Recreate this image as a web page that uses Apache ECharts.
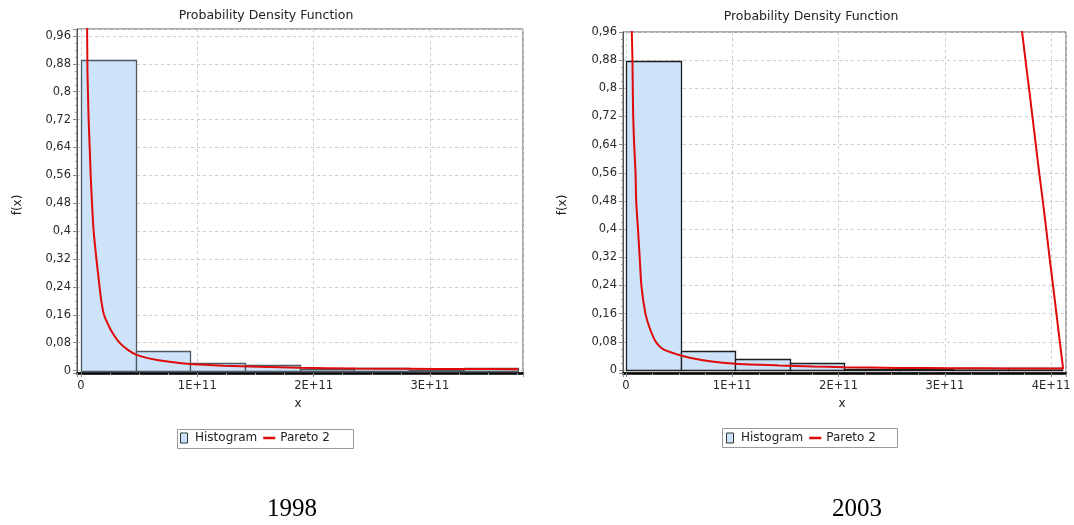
<!DOCTYPE html>
<html>
<head>
<meta charset="utf-8">
<script src="https://cdn.jsdelivr.net/npm/echarts@6/dist/echarts.min.js"></script>
<style>
  html, body { margin: 0; padding: 0; background: #fff; }
  #c { width: 1074px; height: 525px; }
</style>
</head>
<body>
<div id="c"></div>
<script>
// x values are given in units of 1E+11
const X_UNIT = 1e11;

// 1998 histogram: bin edges and bar heights
const binEdges1998 = [0, 0.47, 0.94, 1.41, 1.88, 2.35, 2.82, 3.29, 3.76];
const binHeights1998 = [0.89, 0.057, 0.022, 0.017, 0.005, 0.006, 0.002, 0.007];

// 1998 fitted Pareto 2 density
const paretoX1998 = [0.052, 0.056, 0.060, 0.066, 0.075, 0.085, 0.095, 0.109, 0.133, 0.160, 0.175, 0.198,
  0.251, 0.287, 0.331, 0.40, 0.479, 0.583, 0.76, 0.967, 1.23, 1.53, 1.88, 2.36, 2.83, 3.29, 3.76];
const paretoY1998 = [1.02, 0.86, 0.80, 0.72, 0.64, 0.55, 0.48, 0.40, 0.32, 0.24, 0.20, 0.16,
  0.12, 0.10, 0.08, 0.06, 0.045, 0.035, 0.025, 0.018, 0.014, 0.011, 0.008, 0.006, 0.005, 0.0045, 0.004];

// 2003 histogram
const binEdges2003 = [0, 0.513, 1.026, 1.539, 2.052, 2.565, 3.078, 3.591, 4.104];
const binHeights2003 = [0.877, 0.054, 0.030, 0.0186, 0.002, 0.002, 0.006, 0.006];

// 2003 fitted Pareto 2 density (the trace turns back up at the right end)
const paretoX2003 = [0.053, 0.055, 0.061, 0.064, 0.068, 0.077, 0.090, 0.096, 0.113, 0.129, 0.145, 0.183,
  0.222, 0.28, 0.344, 0.473, 0.60, 0.79, 1.03, 1.44, 1.76, 2.05, 2.56, 3.08, 3.59, 4.10,
  4.113, 4.082, 4.050, 4.018, 3.985, 3.954, 3.922, 3.888, 3.856, 3.824, 3.792, 3.759, 3.727, 3.711];
const paretoY2003 = [1.0, 0.96, 0.88, 0.80, 0.72, 0.64, 0.56, 0.48, 0.40, 0.32, 0.24, 0.16,
  0.12, 0.08, 0.06, 0.045, 0.035, 0.025, 0.018, 0.013, 0.010, 0.008, 0.006, 0.005, 0.0045, 0.004,
  0.004, 0.08, 0.16, 0.24, 0.32, 0.40, 0.48, 0.56, 0.64, 0.72, 0.80, 0.88, 0.96, 1.0];

// axis steps and labels
const yStep = 0.08;
const xStep = 1;
const legendNames = ['Histogram', 'Pareto 2'];
const chartTitle = 'Probability Density Function';
const yearLabels = ['1998', '2003'];

const FONT = 'DejaVu Sans';
const BAR_FILL = '#cce3fa';
const RED = '#e00a0a';

function histData(edges, heights) {
  return heights.map((h, i) => [edges[i] * X_UNIT, edges[i + 1] * X_UNIT, h]);
}
function curveData(xs, ys) {
  return xs.map((x, i) => [x * X_UNIT, ys[i]]);
}

function histRender(stroke) {
  return function (params, api) {
    const p0 = api.coord([api.value(0), api.value(2)]);
    const p1 = api.coord([api.value(1), 0]);
    return {
      type: 'rect',
      shape: { x: Math.round(p0[0]) + 0.5, y: Math.round(p0[1]) + 0.5,
               width: Math.round(p1[0]) - Math.round(p0[0]), height: Math.round(p1[1]) - Math.round(p0[1]) },
      style: { fill: BAR_FILL, stroke: stroke, lineWidth: 1.3 }
    };
  };
}

function yFmt(v) {
  const k = v / yStep;
  if (v < -1e-9 || Math.abs(k - Math.round(k)) > 1e-6) return '';
  return String(parseFloat(v.toFixed(2))).replace('.', ',');
}
function xFmt(v) {
  const k = v / (xStep * X_UNIT);
  if (v < 0 || Math.abs(k - Math.round(k)) > 1e-6) return '';
  return v === 0 ? '0' : Math.round(k) + 'E+11';
}

const splitLine = { show: true, lineStyle: { color: '#cdcdcd', type: [3, 3], width: 1 } };

function makeX(gridIndex, min, max) {
  return {
    type: 'value', gridIndex, min, max,
    minInterval: xStep * X_UNIT, maxInterval: xStep * X_UNIT,
    axisLine: { show: true, onZero: false, lineStyle: { color: '#000', width: 2.5 } },
    axisTick: { show: true, length: 4, lineStyle: { color: '#888' } },
    minorTick: { show: true, splitNumber: 4, length: 2, lineStyle: { color: '#999' } },
    axisLabel: { formatter: xFmt, color: '#2a2a2a', fontFamily: FONT, fontSize: 11.5, margin: 7 },
    splitLine
  };
}
function makeY(gridIndex, min, max) {
  return {
    type: 'value', gridIndex, min, max,
    minInterval: yStep, maxInterval: yStep,
    axisLine: { show: true, onZero: false, lineStyle: { color: '#555', width: 1 } },
    axisTick: { show: true, length: 4, lineStyle: { color: '#888' } },
    minorTick: { show: true, splitNumber: 4, length: 2, lineStyle: { color: '#999' } },
    axisLabel: { formatter: yFmt, color: '#2a2a2a', fontFamily: FONT, fontSize: 11.5, margin: 6 },
    splitLine
  };
}

function legendFor(left) {
  return {
    left, top: 432, padding: 0, itemWidth: 12, itemHeight: 10, itemGap: 6,
    selectedMode: false, symbolKeepAspect: true,
    textStyle: { fontFamily: FONT, fontSize: 12, color: '#222' },
    data: [
      { name: legendNames[0], icon: 'path://M0,0H7V10H0Z',
        itemStyle: { color: BAR_FILL, borderColor: '#333', borderWidth: 1 } },
      { name: legendNames[1], icon: 'path://M0,0H12V2.5H0Z', itemStyle: { color: RED } }
    ]
  };
}

function txt(x, y, text, font, fill, extra) {
  return Object.assign({
    type: 'text', x, y, silent: true,
    style: { text, font, fill: fill || '#222', textAlign: 'center', textVerticalAlign: 'middle' }
  }, extra || {});
}

function curveSeries(points, axisIndex) {
  return {
    type: 'line', name: legendNames[1], xAxisIndex: axisIndex, yAxisIndex: axisIndex, clip: true, z: 3,
    showSymbol: false, symbol: 'none', smooth: 0.2,
    lineStyle: { color: RED, width: 2 }, itemStyle: { color: RED },
    data: points
  };
}

const chart = echarts.init(document.getElementById('c'), null, { renderer: 'canvas' });
chart.setOption({
  animation: false,
  backgroundColor: '#fff',
  grid: [
    { left: 77, top: 29, width: 446, height: 344, show: true, borderColor: '#555', borderWidth: 1, containLabel: false },
    { left: 623, top: 32, width: 443, height: 341, show: true, borderColor: '#555', borderWidth: 1, containLabel: false }
  ],
  xAxis: [makeX(0, -0.034 * X_UNIT, 3.80 * X_UNIT), makeX(1, -0.028 * X_UNIT, 4.14 * X_UNIT)],
  yAxis: [makeY(0, -0.007, 0.98), makeY(1, -0.0085, 0.96)],
  legend: [legendFor(180), legendFor(726)],
  series: [
    { type: 'custom', name: legendNames[0], xAxisIndex: 0, yAxisIndex: 0, clip: true, z: 2,
      renderItem: histRender('#4e5861'), encode: { x: [0, 1], y: 2 },
      itemStyle: { color: BAR_FILL }, data: histData(binEdges1998, binHeights1998) },
    curveSeries(curveData(paretoX1998, paretoY1998), 0),
    { type: 'custom', name: legendNames[0], xAxisIndex: 1, yAxisIndex: 1, clip: true, z: 2,
      renderItem: histRender('#1e1e1e'), encode: { x: [0, 1], y: 2 },
      itemStyle: { color: BAR_FILL }, data: histData(binEdges2003, binHeights2003) },
    curveSeries(curveData(paretoX2003, paretoY2003), 1)
  ],
  graphic: [
    txt(266, 16, chartTitle, '12.5px "DejaVu Sans"'),
    txt(811, 17, chartTitle, '12.5px "DejaVu Sans"'),
    txt(18, 205, 'f(x)', '12px "DejaVu Sans"', '#222', { rotation: Math.PI / 2 }),
    txt(563, 205, 'f(x)', '12px "DejaVu Sans"', '#222', { rotation: Math.PI / 2 }),
    txt(298, 404, 'x', '12px "DejaVu Sans"'),
    txt(842, 404, 'x', '12px "DejaVu Sans"'),
    { type: 'rect', silent: true, shape: { x: 177.5, y: 429.5, width: 176, height: 19 },
      style: { fill: 'none', stroke: '#9a9a9a', lineWidth: 1 } },
    { type: 'rect', silent: true, shape: { x: 722.5, y: 428.5, width: 175, height: 19 },
      style: { fill: 'none', stroke: '#9a9a9a', lineWidth: 1 } },
    txt(292, 509, yearLabels[0], '25px "Liberation Serif"', '#000'),
    txt(857, 509, yearLabels[1], '25px "Liberation Serif"', '#000')
  ]
});
</script>
</body>
</html>
